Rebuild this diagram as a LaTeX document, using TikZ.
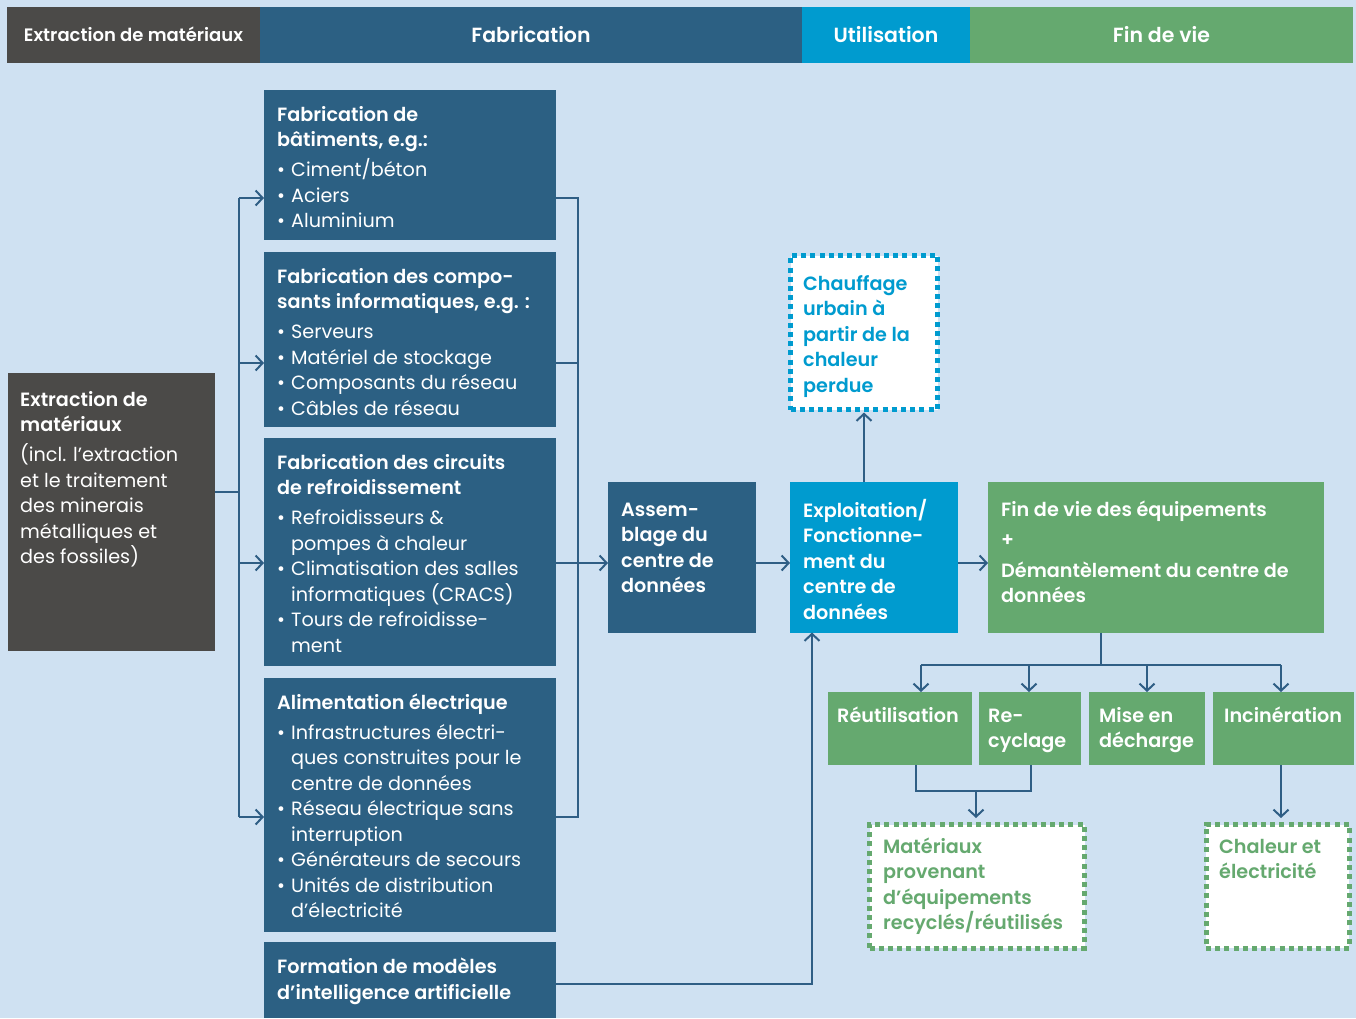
\documentclass[tikz,border=0pt]{standalone}
\usepackage{fontspec}
\setmainfont{Poppins}[BoldFont={Poppins SemiBold}]
\usetikzlibrary{arrows.meta,calc}
\definecolor{bgc}{HTML}{CFE1F2}
\definecolor{greyc}{HTML}{4B4A48}
\definecolor{dblue}{HTML}{2C6083}
\definecolor{lblue}{HTML}{009BCF}
\definecolor{greenc}{HTML}{65A96F}
\definecolor{linec}{HTML}{2F5E85}
\newcommand{\st}{\rule{0pt}{17pt}}
\newcommand{\bl}{\makebox[14pt][l]{•}}
\newcommand{\ind}{\hspace*{14pt}}
\newcommand{\gap}{\\[4.5pt]}
\begin{document}
\begin{tikzpicture}[x=1pt,y=-1pt,
  blk/.style={anchor=north west, inner sep=0pt, outer sep=0pt, draw=none},
  dotbox/.style={anchor=north west, inner sep=0pt, outer sep=0pt, fill=white, line width=5pt, dash pattern=on 5pt off 4.2pt},
  tx/.style={anchor=north west, inner sep=0pt, align=left, text=white, font=\fontsize{19.2}{25.5}\selectfont},
  btx/.style={tx, font=\bfseries\fontsize{19.2}{25.5}\selectfont},
  hd/.style={blk, text=white, font=\bfseries\fontsize{20.5}{24}\selectfont, minimum height=55.5pt},
  conn/.style={draw=linec, line width=2pt},
  arr/.style={conn, -{Straight Barb[length=7pt,width=15pt]}}]
\fill[bgc] (0,0) rectangle (1356,1018);
\useasboundingbox (0,0) rectangle (1356,1018);
% header
\node[hd, fill=greyc, minimum width=253pt, font=\bfseries\fontsize{18}{20}\selectfont] (h1) at (7,7) {Extraction de matériaux};
\node[hd, fill=dblue, minimum width=542pt] (h2) at (260,7) {Fabrication};
\node[hd, fill=lblue, minimum width=168pt] (h3) at (802,7) {Utilisation};
\node[hd, fill=greenc, minimum width=383pt] (h4) at (970,7) {Fin de vie};
% boxes
\node[blk, fill=greyc, minimum width=207pt, minimum height=278pt] (ext) at (8,373) {};
\node[blk, fill=dblue, minimum width=292pt, minimum height=150pt] (b1) at (264,90) {};
\node[blk, fill=dblue, minimum width=292pt, minimum height=174.5pt] (b2) at (264,252) {};
\node[blk, fill=dblue, minimum width=292pt, minimum height=228pt] (b3) at (264,438) {};
\node[blk, fill=dblue, minimum width=292pt, minimum height=254pt] (b4) at (264,678) {};
\node[blk, fill=dblue, minimum width=292pt, minimum height=76pt] (b5) at (264,942) {};
\node[blk, fill=dblue, minimum width=148pt, minimum height=150.5pt] (asm) at (608,482) {};
\node[blk, fill=lblue, minimum width=168pt, minimum height=150.5pt] (exp) at (790,482) {};
\node[blk, fill=greenc, minimum width=336pt, minimum height=150.5pt] (fin) at (988,482) {};
\node[dotbox, draw=lblue, minimum width=147pt, minimum height=154pt] (chf) at (790.5,255.5) {};
\node[blk, fill=greenc, minimum width=144pt, minimum height=73pt] (r1) at (828,692) {};
\node[blk, fill=greenc, minimum width=102pt, minimum height=73pt] (r2) at (979,692) {};
\node[blk, fill=greenc, minimum width=116pt, minimum height=73pt] (r3) at (1089,692) {};
\node[blk, fill=greenc, minimum width=141pt, minimum height=73pt] (r4) at (1213,692) {};
\node[dotbox, draw=greenc, minimum width=215pt, minimum height=123.5pt] (mat) at (869.5,824.5) {};
\node[dotbox, draw=greenc, minimum width=143pt, minimum height=123.5pt] (cha) at (1206,824.5) {};
% texts
\node[tx] (text) at (20,389) {\st\textbf{Extraction de}\\\textbf{matériaux}\gap (incl. l’extraction\\et le traitement\\des minerais\\métalliques et\\des fossiles)};
\node[tx] (t1) at (277,104) {\st\textbf{Fabrication de}\\\textbf{bâtiments, e.g.:}\gap \bl Ciment/béton\\\bl Aciers\\\bl Aluminium};
\node[tx] (t2) at (277,266) {\st\textbf{Fabrication des compo-}\\\textbf{sants informatiques, e.g. :}\gap \bl Serveurs\\\bl Matériel de stockage\\\bl Composants du réseau\\\bl Câbles de réseau};
\node[tx] (t3) at (277,452) {\st\textbf{Fabrication des circuits}\\\textbf{de refroidissement}\gap \bl Refroidisseurs \&\\\ind pompes à chaleur\\\bl Climatisation des salles\\\ind informatiques (CRACS)\\\bl Tours de refroidisse-\\\ind ment};
\node[tx] (t4) at (277,692) {\st\textbf{Alimentation électrique}\gap \bl Infrastructures électri-\\\ind ques construites pour le\\\ind centre de données\\\bl Réseau électrique sans\\\ind interruption\\\bl Générateurs de secours\\\bl Unités de distribution\\\ind d’électricité};
\node[btx, font=\bfseries\fontsize{19.2}{26}\selectfont] (t5) at (277,956) {\st Formation de modèles\\d’intelligence artificielle};
\node[btx] (tasm) at (621,499) {\st Assem-\\blage du\\centre de\\données};
\node[btx] (texp) at (803,499) {\st Exploitation/\\Fonctionne-\\ment du\\centre de\\données};
\node[btx, text=lblue] (tchf) at (803,273) {\st Chauffage\\urbain à\\partir de la\\chaleur\\perdue};
\node[btx] (tfin) at (1001,499) {\st Fin de vie des équipements\\[5pt]+\\[5pt]Démantèlement du centre de\\données};
\node[btx] (tr1) at (837,705) {\st Réutilisation};
\node[btx] (tr2) at (988,705) {\st Re-\\cyclage};
\node[btx] (tr3) at (1099,705) {\st Mise en\\décharge};
\node[btx] (tr4) at (1224,705) {\st Incinération};
\node[btx, text=greenc] (tmat) at (883,836) {\st Matériaux\\provenant\\d’équipements\\recyclés/réutilisés};
\node[btx, text=greenc] (tcha) at (1219,836) {\st Chaleur et\\électricité};
% connectors
\coordinate (lb1) at (239,198);
\coordinate (lb4) at (239,817);
\coordinate (rb1) at (578,198);
\coordinate (rb4) at (578,817);
\draw[conn] (ext.east |- 0,492) -- (239,492);
\draw[conn] (lb1) -- (lb4);
\draw[arr] (lb1) -- (b1.west |- lb1);
\draw[arr] (239,363) -- (b2.west |- 0,363);
\draw[arr] (239,563) -- (b3.west |- 0,563);
\draw[arr] (lb4) -- (b4.west |- lb4);
\draw[conn] (b1.east |- lb1) -- (rb1) -- (rb4) -- (b4.east |- rb4);
\draw[conn] (b2.east |- 0,363) -- (578,363);
\draw[arr] (b3.east |- 0,563) -- (asm.west |- 0,563);
\draw[arr] (asm.east |- 0,563) -- (exp.west |- 0,563);
\draw[arr] (exp.east |- 0,563) -- (fin.west |- 0,563);
\draw[arr, shorten >=3pt] (exp.north -| 864,0) -- (chf.south -| 864,0);
\draw[arr] (b5.east |- 0,984) -- (812,984) -- (exp.south -| 812,0);
\draw[conn] (fin.south -| 1101,0) -- (1101,665);
\draw[conn] (921,665) -- (1281,665);
\draw[arr] (921,665) -- (r1.north -| 921,0);
\draw[arr] (1029,665) -- (r2.north -| 1029,0);
\draw[arr] (1147,665) -- (r3.north -| 1147,0);
\draw[arr] (1281,665) -- (r4.north -| 1281,0);
\draw[conn] (r1.south -| 916,0) -- (916,791) -- (1031,791) -- (r2.south -| 1031,0);
\draw[arr, shorten >=6.5pt] (976,791) -- (mat.north -| 976,0);
\draw[arr, shorten >=6.5pt] (r4.south -| 1281,0) -- (cha.north -| 1281,0);
\end{tikzpicture}
\end{document}
